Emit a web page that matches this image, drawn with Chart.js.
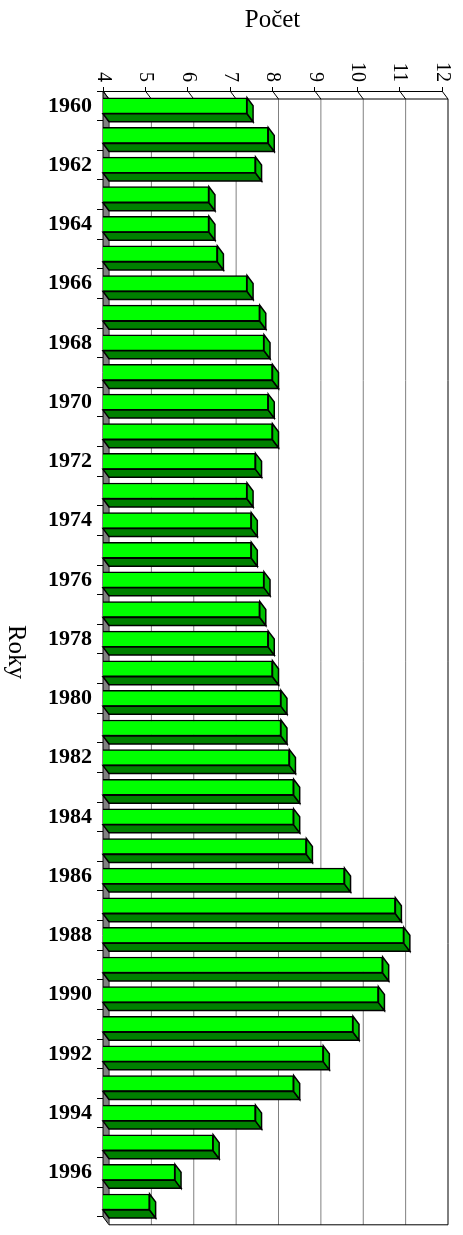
<!DOCTYPE html>
<html>
<head>
<meta charset="utf-8">
<script src="https://cdn.jsdelivr.net/npm/chart.js@4.4.0/dist/chart.umd.min.js"></script>
<style>
    html, body { margin: 0; padding: 0; background: #fff; }
</style>
</head>
<body>
<canvas id="graf" width="463" height="1235"></canvas>
<script>
const roky = ['1960', '1961', '1962', '1963', '1964', '1965', '1966', '1967', '1968', '1969',
    '1970', '1971', '1972', '1973', '1974', '1975', '1976', '1977', '1978', '1979',
    '1980', '1981', '1982', '1983', '1984', '1985', '1986', '1987', '1988', '1989',
    '1990', '1991', '1992', '1993', '1994', '1995', '1996', '1997'];
const pocty = [7.4, 7.9, 7.6, 6.5, 6.5, 6.7, 7.4, 7.7, 7.8, 8.0,
    7.9, 8.0, 7.6, 7.4, 7.5, 7.5, 7.8, 7.7, 7.9, 8.0,
    8.2, 8.2, 8.4, 8.5, 8.5, 8.8, 9.7, 10.9, 11.1, 10.6,
    10.5, 9.9, 9.2, 8.5, 7.6, 6.6, 5.7, 5.1];
const osaHodnoty = [4, 5, 6, 7, 8, 9, 10, 11, 12];
const nadpisX = 'Počet';
const nadpisY = 'Roky';

const dx = 6, dy = 8;
const serif = "'Liberation Serif', 'Times New Roman', serif";

function cara(ctx, x1, y1, x2, y2) {
    ctx.beginPath();
    ctx.moveTo(x1, y1);
    ctx.lineTo(x2, y2);
    ctx.stroke();
}

function plocha(ctx, body, barva) {
    ctx.beginPath();
    ctx.moveTo(body[0][0], body[0][1]);
    for (let i = 1; i < body.length; i++)
        ctx.lineTo(body[i][0], body[i][1]);
    ctx.closePath();
    ctx.fillStyle = barva;
    ctx.fill();
    ctx.stroke();
}

// 3D look: back wall, floor strip and side faces of the bars
const prostor = {
    id: 'prostor',
    beforeDatasetsDraw(chart) {
        const ctx = chart.ctx, a = chart.chartArea, x = chart.scales.x;
        ctx.save();
        ctx.lineWidth = 1;
        ctx.strokeStyle = '#000';
        plocha(ctx, [[a.left, a.top], [a.left + dx, a.top + dy],
            [a.left + dx, a.bottom + dy], [a.left, a.bottom]], '#808080');
        osaHodnoty.forEach(v => {
            const px = x.getPixelForValue(v);
            ctx.strokeStyle = (v === 12) ? '#000' : '#808080';
            cara(ctx, px + dx, a.top + dy, px + dx, a.bottom + dy);
            ctx.strokeStyle = '#000';
            cara(ctx, px, a.top, px + dx, a.top + dy);
        });
        cara(ctx, a.left + dx, a.top + dy, a.right + dx, a.top + dy);
        cara(ctx, a.left + dx, a.bottom + dy, a.right + dx, a.bottom + dy);
        ctx.restore();
    },
    afterDatasetsDraw(chart) {
        const ctx = chart.ctx, a = chart.chartArea;
        ctx.save();
        ctx.lineWidth = 1.5;
        ctx.strokeStyle = '#000';
        chart.getDatasetMeta(0).data.forEach(bar => {
            const p = bar.getProps(['x', 'y', 'base', 'height'], true);
            const zac = Math.max(p.base, a.left);
            const t = p.y - p.height / 2, b = p.y + p.height / 2;
            plocha(ctx, [[zac, b], [p.x, b], [p.x + dx, b + dy], [zac + dx, b + dy]], '#008000');
            plocha(ctx, [[p.x, t], [p.x + dx, t + dy], [p.x + dx, b + dy], [p.x, b]], '#00c000');
        });
        ctx.restore();
    },
    afterDraw(chart) {
        const ctx = chart.ctx, a = chart.chartArea, x = chart.scales.x;
        ctx.save();
        ctx.fillStyle = '#000';
        ctx.font = '20px ' + serif;
        ctx.textAlign = 'right';
        ctx.textBaseline = 'middle';
        osaHodnoty.forEach(v => {
            ctx.save();
            ctx.translate(x.getPixelForValue(v), 82);
            ctx.rotate(Math.PI / 2);
            ctx.fillText(String(v), 0, 0);
            ctx.restore();
        });
        ctx.font = '25px ' + serif;
        ctx.textAlign = 'center';
        ctx.fillText(nadpisX, (a.left + a.right) / 2, 20);
        ctx.translate(16, 652);
        ctx.rotate(Math.PI / 2);
        ctx.fillText(nadpisY, 0, 0);
        ctx.restore();
    }
};

new Chart(document.getElementById('graf').getContext('2d'), {
    type: 'bar',
    data: {
        labels: roky,
        datasets: [{
            label: nadpisX,
            data: pocty,
            backgroundColor: '#00ff00',
            borderColor: '#000',
            borderWidth: 1.5,
            borderSkipped: false,
            barThickness: 16
        }]
    },
    options: {
        indexAxis: 'y',
        responsive: false,
        animation: false,
        devicePixelRatio: 1,
        layout: { padding: { left: 0, top: 0, right: 21, bottom: 12 } },
        plugins: { legend: { display: false }, tooltip: { enabled: false } },
        scales: {
            x: {
                position: 'top',
                min: 4,
                max: 12,
                ticks: { stepSize: 1, display: false },
                grid: { drawOnChartArea: false, tickLength: 4, color: '#000' },
                border: { color: '#000', width: 1 },
                afterFit(s) { s.height = 91; }
            },
            y: {
                ticks: {
                    autoSkip: false,
                    color: '#000',
                    padding: 5,
                    font: { family: serif, size: 22, weight: 'bold' },
                    callback: (v, i) => i % 2 === 0 ? roky[i] : ''
                },
                grid: { drawOnChartArea: false, offset: true, tickLength: 6, color: '#000' },
                border: { color: '#000', width: 1 },
                afterFit(s) { s.width = 103; }
            }
        }
    },
    plugins: [prostor]
});
</script>
</body>
</html>
